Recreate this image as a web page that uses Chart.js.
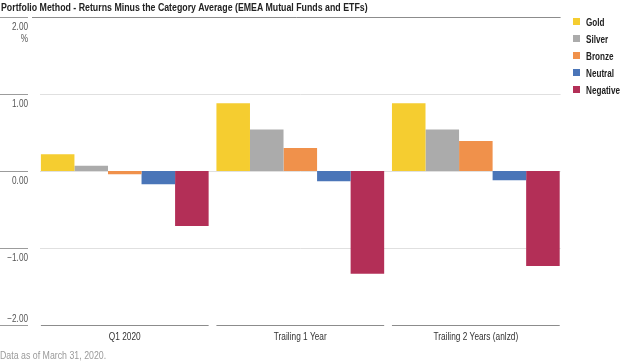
<!DOCTYPE html>
<html><head><meta charset="utf-8">
<script src="https://cdn.jsdelivr.net/npm/chart.js@4/dist/chart.umd.min.js"></script>
<style>
html,body{margin:0;padding:0;background:#fff;}
#wrap{position:relative;width:625px;height:361px;overflow:hidden;font-family:'Liberation Sans',Arial,sans-serif;}
#title{position:absolute;left:1px;top:0px;font-size:11.5px;font-weight:bold;color:#222;white-space:nowrap;line-height:15px;transform:scaleX(0.765);transform-origin:0 0;}
#legend{position:absolute;left:573px;top:13px;}
.li{height:17px;display:flex;align-items:center;font-size:11px;font-weight:bold;color:#222;white-space:nowrap;}
.sw{width:7px;height:7px;margin-right:6px;flex:none;}
.lt{display:inline-block;transform:scaleX(0.74);transform-origin:0 50%;}
#footer{position:absolute;left:0;top:349px;font-size:10px;color:#9a9a9a;line-height:13px;white-space:nowrap;transform:scaleX(0.88);transform-origin:0 0;}
canvas{position:absolute;left:0;top:0;}
</style>
</head><body>
<div id="wrap">
<canvas id="c" width="625" height="361"></canvas>
<div id="title"></div>
<div id="legend"></div>
<div id="footer"></div>
</div>
<script>
const titleText = 'Portfolio Method - Returns Minus the Category Average (EMEA Mutual Funds and ETFs)';
const footerText = 'Data as of March 31, 2020.';
const categories = ['Q1 2020', 'Trailing 1 Year', 'Trailing 2 Years (anlzd)'];
const seriesNames = ['Gold', 'Silver', 'Bronze', 'Neutral', 'Negative'];
const gold = [0.22, 0.88, 0.88];
const silver = [0.07, 0.54, 0.54];
const bronze = [-0.04, 0.30, 0.39];
const neutral = [-0.17, -0.13, -0.12];
const negative = [-0.71, -1.33, -1.23];
const yTickValues = [2, 1, 0, -1, -2];
const yTickLabels = ['2.00', '1.00', '0.00', '\u22121.00', '\u22122.00'];
const yUnit = '%';

const colors = ['#F5CD30', '#ABABAB', '#F0914B', '#4A75B8', '#B32F57'];
const seriesValues = [gold, silver, bronze, neutral, negative];
const catPct = 0.9556;
const FONT = "'Liberation Sans',Arial,sans-serif";

document.getElementById('title').textContent = titleText;
document.getElementById('footer').textContent = footerText;
const lg = document.getElementById('legend');
seriesNames.forEach((n, i) => {
  const d = document.createElement('div'); d.className = 'li';
  const s = document.createElement('span'); s.className = 'sw'; s.style.background = colors[i];
  const t = document.createElement('span'); t.className = 'lt'; t.textContent = n;
  d.appendChild(s); d.appendChild(t); lg.appendChild(d);
});

function hline(ctx, x1, x2, y, color) {
  ctx.strokeStyle = color; ctx.lineWidth = 1;
  ctx.beginPath(); ctx.moveTo(x1, y); ctx.lineTo(x2, y); ctx.stroke();
}
function narrowText(ctx, text, x, y, sx) {
  ctx.save();
  ctx.translate(x, y);
  ctx.scale(sx, 1);
  ctx.fillText(text, 0, 0);
  ctx.restore();
}

const axisPlugin = {
  id: 'customAxes',
  beforeDatasetsDraw(chart) {
    const { ctx, chartArea: a, scales: { x, y } } = chart;
    ctx.save();
    const yMax = Math.max(...yTickValues), yMin = Math.min(...yTickValues);
    yTickValues.forEach(v => {
      const py = Math.round(y.getPixelForValue(v)) + 0.5;
      if (v === yMax) hline(ctx, 32, a.right - 3, py, '#8c8c8c');
      else if (v !== yMin) hline(ctx, a.left + 3, a.right - 3, py, '#e0e0e0');
      hline(ctx, 0, 28, py, '#9c9c9c');
    });
    const step = x.getPixelForValue(1) - x.getPixelForValue(0);
    const grp = step * catPct;
    const pb = Math.round(y.getPixelForValue(yMin)) + 0.5;
    categories.forEach((c, i) => {
      const cx = x.getPixelForValue(i);
      hline(ctx, cx - grp / 2, cx + grp / 2, pb, '#8c8c8c');
    });
    ctx.restore();
  },
  afterDraw(chart) {
    const { ctx, scales: { x, y } } = chart;
    ctx.save();
    const yMax = Math.max(...yTickValues), yMin = Math.min(...yTickValues);
    ctx.font = '10px ' + FONT;
    ctx.fillStyle = '#555';
    ctx.textAlign = 'right';
    ctx.textBaseline = 'middle';
    yTickValues.forEach((v, i) => {
      const py = y.getPixelForValue(v);
      const ly = v === yMin ? py - 6.5 : py + 10;
      narrowText(ctx, yTickLabels[i], 28, ly, 0.82);
      if (v === yMax) narrowText(ctx, yUnit, 28, py + 22, 0.82);
    });
    ctx.textAlign = 'center';
    ctx.fillStyle = '#333';
    categories.forEach((c, i) => {
      narrowText(ctx, c, x.getPixelForValue(i), 337, 0.83);
    });
    ctx.restore();
  }
};

new Chart(document.getElementById('c'), {
  type: 'bar',
  data: {
    labels: categories,
    datasets: seriesNames.map((n, i) => ({
      label: n,
      data: seriesValues[i],
      backgroundColor: colors[i],
      borderWidth: 0,
      barPercentage: 1.0,
      categoryPercentage: catPct
    }))
  },
  options: {
    responsive: false,
    animation: false,
    devicePixelRatio: 1,
    layout: { padding: { left: 37, right: 61.4, top: 16.8, bottom: 35.6 } },
    plugins: { legend: { display: false }, tooltip: { enabled: false }, title: { display: false } },
    scales: {
      x: { type: 'category', display: false },
      y: { display: false, min: -2, max: 2 }
    }
  },
  plugins: [axisPlugin]
});
</script>
</body></html>
